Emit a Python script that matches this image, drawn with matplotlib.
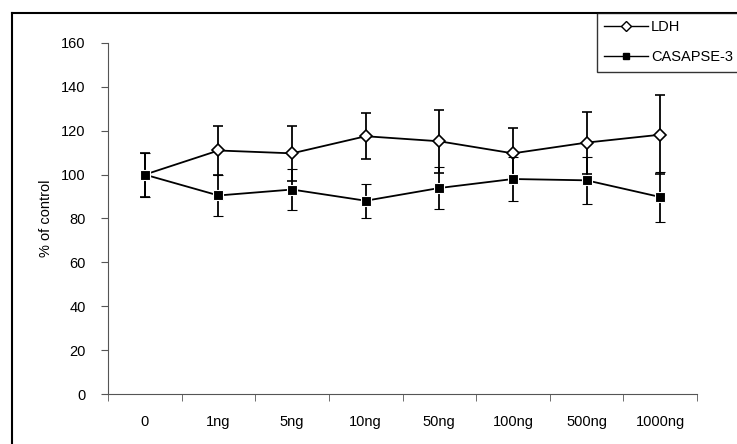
import matplotlib.pyplot as plt
from matplotlib.lines import Line2D

plt.rcParams['font.family'] = ['Liberation Sans Narrow', 'Liberation Sans', 'DejaVu Sans']

doses = ["0", "1ng", "5ng", "10ng", "50ng", "100ng", "500ng", "1000ng"]
ldh = [100, 111, 109.7, 117.5, 115.2, 109.7, 114.6, 118.2]
ldh_err = [10, 11, 12.6, 10.5, 14.3, 11.4, 14.1, 18.1]
casp = [100, 90.5, 93.2, 88.1, 93.9, 98.0, 97.4, 89.8]
casp_err = [10, 9.5, 9.3, 7.8, 9.4, 9.9, 10.8, 11.5]

fig = plt.figure(figsize=(7.37, 4.44), dpi=100)
ax = fig.add_axes([108 / 737, 1 - 394 / 444, 589 / 737, 351 / 444])

x = list(range(len(doses)))
# the control point is hidden under the square in the original
ax.errorbar(x, ldh, yerr=ldh_err, color="black", lw=1.3, capsize=3.6, capthick=1.3,
            marker="D", markersize=6.5, markerfacecolor="white", markeredgecolor="black",
            markeredgewidth=1.2, markevery=list(range(1, len(x))), label="LDH", zorder=3)
ax.errorbar(x, casp, yerr=casp_err, color="black", lw=1.3, capsize=3.6, capthick=1.3,
            marker="s", markersize=7.5, markerfacecolor="black", markeredgecolor="white",
            markeredgewidth=0.8, label="CASAPSE-3", zorder=4)

ax.set_xlim(-0.5, 7.5)
ax.set_ylim(0, 160)
ax.set_yticks(range(0, 161, 20))
ax.set_xticks(x)
ax.set_xticklabels(doses)
ax.set_xticks([i - 0.5 for i in range(9)], minor=True)
ax.tick_params(axis="x", which="major", length=0, pad=15, labelsize=10.5)
ax.tick_params(axis="x", which="minor", length=5, direction="out", color="#555555")
ax.tick_params(axis="y", length=5, direction="out", labelsize=10.5, pad=11, color="#555555")
ax.set_ylabel("% of control", fontsize=10.5, family=["Liberation Sans", "DejaVu Sans"],
              labelpad=6)

for s in ["top", "right"]:
    ax.spines[s].set_visible(False)
for s in ["left", "bottom"]:
    ax.spines[s].set_color("#555555")

h1 = Line2D([], [], color="black", lw=1, marker="D", markersize=5,
            markerfacecolor="white", markeredgecolor="black")
h2 = Line2D([], [], color="black", lw=1, marker="s", markersize=4,
            markerfacecolor="black")
leg = fig.legend([h1, h2], ["LDH", "CASAPSE-3"], loc="upper left",
                 bbox_to_anchor=(597 / 737, 1 - 13 / 444),
                 prop={"family": ["Liberation Sans", "DejaVu Sans"], "size": 10.5},
                 frameon=True, fancybox=False, handlelength=3.0,
                 borderaxespad=0, labelspacing=1.1, handletextpad=0.2,
                 borderpad=0.5)
leg.get_frame().set_edgecolor("black")
leg.get_frame().set_linewidth(1)

fig.add_artist(Line2D([12 / 737, 1], [1 - 13 / 444, 1 - 13 / 444], color="black", lw=1.5))
fig.add_artist(Line2D([12 / 737, 12 / 737], [0, 1 - 13 / 444], color="black", lw=1.5))

fig.savefig("out.png", dpi=100)
